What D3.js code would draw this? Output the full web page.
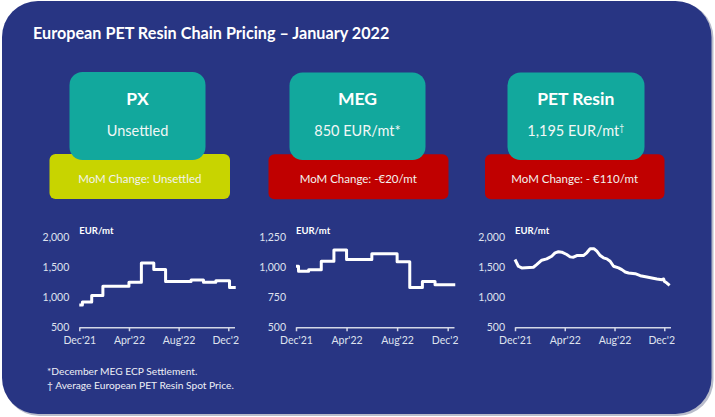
<!DOCTYPE html>
<html>
<head>
<meta charset="utf-8">
<script src="https://cdn.jsdelivr.net/npm/d3@7"></script>
<style>
  html, body { margin: 0; padding: 0; background: #ffffff; }
  svg { display: block; }
</style>
</head>
<body>
<div id="chart"></div>
<script>
// ---------- DATA ----------
const title = "European PET Resin Chain Pricing – January 2022";

const products = ["PX", "MEG", "PET Resin"];
const prices = ["Unsettled", "850 EUR/mt", "1,195 EUR/mt"];
const priceMarks = ["", "*", "†"];
const momChanges = ["MoM Change: Unsettled", "MoM Change: -€20/mt", "MoM Change: - €110/mt"];
const momStatus = ["unsettled", "down", "down"];

const footnotes = ["*December MEG ECP Settlement.", "† Average European PET Resin Spot Price."];

const unitLabel = "EUR/mt";
const xTickMonths = [0, 4, 8, 12];            // months after Dec'21
const xTickLabels = ["Dec'21", "Apr'22", "Aug'22", "Dec'22"];

// PX monthly contract (step series): month index, value
const pxMonths = [0, 0.25, 1, 1.9, 4, 5, 6, 6.95, 9, 10, 11, 12.1, 12.6];
const pxValues = [870, 920, 1025, 1180, 1245, 1565, 1455, 1260, 1285, 1245, 1270, 1160, 1160];
const pxTicks = [500, 1000, 1500, 2000];

// MEG ECP (step series)
const megMonths = [0, 0.2, 1, 2, 3, 4, 6, 8, 9, 10, 11, 12.6];
const megValues = [1005, 963, 977, 1047, 1139, 1061, 1109, 1042, 830, 880, 853, 853];
const megTicks = [500, 750, 1000, 1250];

// PET resin spot (continuous series)
const petMonths = [0, 0.27, 0.54, 1.48, 1.74, 2.15, 2.55, 2.95, 3.22, 3.49, 3.76, 4.16, 4.43, 4.70, 4.97, 5.50, 5.77, 6.04, 6.36, 6.58, 6.85, 7.11, 7.38, 7.65, 7.92, 8.32, 8.59, 8.86, 9.13, 9.66, 10.07, 10.60, 11.0, 11.41, 11.81, 11.95, 12.0, 12.21, 12.43];
const petValues = [1622, 1511, 1483, 1494, 1538, 1611, 1633, 1677, 1733, 1750, 1744, 1705, 1666, 1661, 1688, 1688, 1733, 1800, 1800, 1761, 1688, 1650, 1633, 1594, 1511, 1483, 1455, 1416, 1400, 1388, 1355, 1333, 1316, 1300, 1288, 1300, 1261, 1233, 1194];
const petTicks = [500, 1000, 1500, 2000];

// ---------- LAYOUT / STYLE ----------
const W = 715, H = 417;
const C = {
  panel: "#283583",
  teal: "#12A89D",
  yellow: "#C8D400",
  red: "#C00000",
  white: "#ffffff",
  tick: "#dfe2ee",
  axis: "#d4d8e6"
};
const FONT = "Lato, 'Open Sans', sans-serif";

const svg = d3.select("#chart").append("svg")
  .attr("width", W).attr("height", H)
  .attr("viewBox", `0 0 ${W} ${H}`);

const defs = svg.append("defs");

// panel + faint shadow
svg.append("rect").attr("x", 3.5).attr("y", 2).attr("width", 710).attr("height", 414)
  .attr("rx", 36).attr("fill", "#b9bccb");
svg.append("rect").attr("x", 2).attr("y", 1).attr("width", 709.5).attr("height", 413)
  .attr("rx", 36).attr("fill", C.panel);

// title
svg.append("text").attr("x", 33).attr("y", 38.5)
  .attr("fill", C.white).attr("font-family", FONT).attr("font-weight", 700)
  .attr("font-size", 16.2).text(title);

// cards
const cards = [
  { card: [69.5, 72, 136, 88], mom: [49.5, 154, 180.5, 45], cx: 137.5, mcx: 139.8 },
  { card: [289.5, 72.5, 136, 87.5], mom: [268.5, 154.3, 180, 45], cx: 357.5, mcx: 358.3 },
  { card: [507.5, 72.5, 137, 87.5], mom: [485, 154.3, 179.5, 45], cx: 575.8, mcx: 574.7 }
];
const momFill = s => s === "unsettled" ? C.yellow : C.red;

cards.forEach((c, i) => {
  const g = svg.append("g");
  g.append("rect").attr("x", c.mom[0]).attr("y", c.mom[1]).attr("width", c.mom[2]).attr("height", c.mom[3])
    .attr("rx", 6).attr("fill", momFill(momStatus[i]));
  g.append("rect").attr("x", c.card[0]).attr("y", c.card[1]).attr("width", c.card[2]).attr("height", c.card[3])
    .attr("rx", 13).attr("fill", C.teal);
  g.append("text").attr("x", c.cx).attr("y", 104.5).attr("text-anchor", "middle")
    .attr("fill", C.white).attr("font-family", FONT).attr("font-weight", 700).attr("font-size", 17.5)
    .text(products[i]);
  const pt = g.append("text").attr("x", c.cx).attr("y", 135.5).attr("text-anchor", "middle")
    .attr("fill", "#f2f7f6").attr("font-family", FONT).attr("font-size", 14.5);
  pt.append("tspan").text(prices[i]);
  if (priceMarks[i] === "*") {
    pt.append("tspan").text("*");
  } else if (priceMarks[i]) {
    pt.append("tspan").attr("font-size", 8.5).attr("dy", -5).text(priceMarks[i]);
  }
  g.append("text").attr("x", c.mcx).attr("y", 183).attr("text-anchor", "middle")
    .attr("fill", "#f3f3ee").attr("font-family", FONT).attr("font-size", 11.5)
    .text(momChanges[i]);
});

// mini charts
const charts = [
  { id: "px", months: pxMonths, values: pxValues, ticks: pxTicks, x0: 79.3, x1: 234.5, curve: d3.curveStepAfter },
  { id: "meg", months: megMonths, values: megValues, ticks: megTicks, x0: 296, x1: 454, curve: d3.curveStepAfter },
  { id: "pet", months: petMonths, values: petValues, ticks: petTicks, x0: 515, x1: 670.5, curve: d3.curveLinear }
];
const yTop = 236.7, yBot = 327.3;

charts.forEach(ch => {
  const x = d3.scaleLinear().domain([0, 12.5]).range([ch.x0, ch.x1]);
  const y = d3.scaleLinear().domain([ch.ticks[0], ch.ticks[ch.ticks.length - 1]]).range([yBot, yTop]);
  const g = svg.append("g");

  // y axis (labels only)
  const ya = g.append("g").attr("transform", `translate(${ch.x0},0)`)
    .call(d3.axisLeft(y).tickValues(ch.ticks).tickSize(0).tickPadding(10).tickFormat(d3.format(",")));
  ya.select(".domain").remove();
  ya.selectAll("text").attr("fill", C.tick).attr("font-family", FONT).attr("font-size", 10.5);

  // x axis (last label is cut off at the plot edge, as in the original)
  defs.append("clipPath").attr("id", "clip-" + ch.id)
    .append("rect").attr("x", ch.x0 - 40).attr("y", -5).attr("width", ch.x1 - ch.x0 + 44.5).attr("height", 40);
  const xa = g.append("g").attr("transform", `translate(0,${yBot})`)
    .attr("clip-path", `url(#clip-${ch.id})`)
    .call(d3.axisBottom(x).tickValues(xTickMonths).tickFormat((d, i) => xTickLabels[i])
      .tickSizeInner(4).tickSizeOuter(0).tickPadding(5));
  xa.select(".domain").attr("stroke", C.axis).attr("stroke-width", 1.5);
  xa.selectAll(".tick line").attr("stroke", C.axis).attr("stroke-width", 1.5);
  xa.selectAll("text").attr("fill", C.tick).attr("font-family", FONT).attr("font-size", 10.5);

  // unit label
  g.append("text").attr("x", ch.x0).attr("y", 233.5)
    .attr("fill", C.white).attr("font-family", FONT).attr("font-weight", 700).attr("font-size", 9.5)
    .text(unitLabel);

  // line
  const pts = ch.months.map((m, i) => [m, ch.values[i]]);
  g.append("path").datum(pts)
    .attr("fill", "none").attr("stroke", C.white).attr("stroke-width", 3)
    .attr("stroke-linejoin", "round")
    .attr("d", d3.line().x(d => x(d[0])).y(d => y(d[1])).curve(ch.curve));
});

// footnotes
footnotes.forEach((f, i) => {
  svg.append("text").attr("x", 47).attr("y", 374.5 + i * 14.3)
    .attr("fill", "#eef0f6").attr("font-family", FONT).attr("font-size", 10.2).text(f);
});
</script>
</body>
</html>
